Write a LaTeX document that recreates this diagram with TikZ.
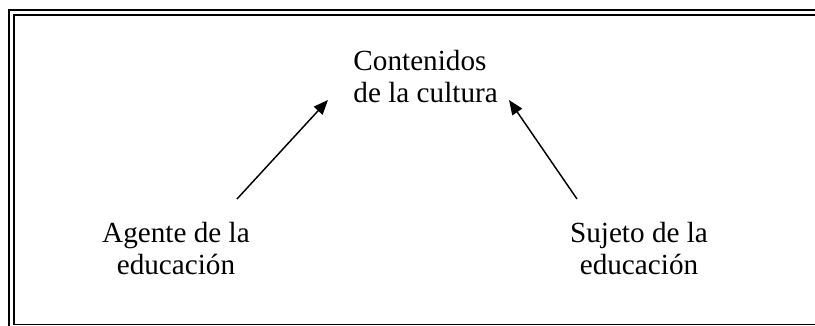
\documentclass[tikz,border=0pt]{standalone}
\usepackage{fontspec}
\setmainfont{Liberation Serif}
\usetikzlibrary{positioning, arrows.meta}

\begin{document}
\begin{tikzpicture}[
		x=0.411pt, y=-0.411pt,
		>={Triangle[length=6pt, width=4.8pt]},
		txtnode/.style={inner sep=0pt, font=\fontsize{12pt}{13.4pt}\selectfont},
		thinl/.style={->, line width=0.6pt},
		framel/.style={line width=0.8pt},
	]
	\useasboundingbox (0, 0) rectangle (815, 326);
	\clip (0, 0) rectangle (815, 326);
	\draw[framel] (9, 10) rectangle (828, 330);
	\draw[framel] (14, 15) rectangle (823, 324.5);

	\node[txtnode, align=left, anchor=base west] (cont) at (353, 103) {Contenidos\\de la cultura};
	\node[txtnode, align=center, anchor=base] (agente) at (176, 275) {Agente de la\\educación};
	\node[txtnode, align=center, anchor=base] (sujeto) at (639, 275) {Sujeto de la\\educación};

	\draw[thinl] ([shift={(61, -76)}]agente.base) -- ([shift={(-25, -3)}]cont.base west);
	\draw[thinl] ([shift={(-62, -76)}]sujeto.base) -- ([shift={(156, -3)}]cont.base west);
\end{tikzpicture}
\end{document}
